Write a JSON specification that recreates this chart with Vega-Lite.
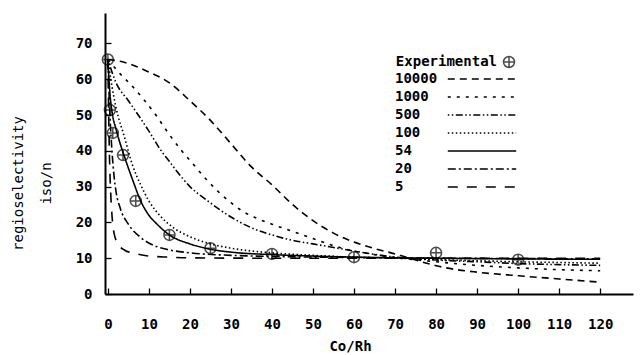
{
  "$schema": "https://vega.github.io/schema/vega-lite/v6.json",
  "width": 528,
  "height": 281,
  "autosize": {"type": "none"},
  "padding": {"left": 105, "top": 13, "right": 8, "bottom": 61},
  "background": "white",
  "config": {
    "view": {"stroke": null},
    "font": "DejaVu Sans Mono",
    "axis": {"grid": false, "domainColor": "black", "domainWidth": 2, "tickColor": "black", "tickWidth": 1.3, "labelColor": "black", "titleColor": "black", "labelFont": "DejaVu Sans Mono", "labelFontSize": 14, "labelFontWeight": "bold", "titleFont": "DejaVu Sans Mono"},
    "legend": {"labelFont": "DejaVu Sans Mono", "labelFontSize": 14, "labelFontWeight": "bold", "labelColor": "black", "padding": 0}
  },
  "datasets": {
    "curves": [
      {"model": "10000", "x": 0, "y": 65.5}, {"model": "10000", "x": 3, "y": 65}, {"model": "10000", "x": 6, "y": 64}, {"model": "10000", "x": 10, "y": 62}, {"model": "10000", "x": 15, "y": 59}, {"model": "10000", "x": 20, "y": 54}, {"model": "10000", "x": 25, "y": 48.5}, {"model": "10000", "x": 30, "y": 42}, {"model": "10000", "x": 35, "y": 35.5}, {"model": "10000", "x": 40, "y": 30.5}, {"model": "10000", "x": 45, "y": 25}, {"model": "10000", "x": 50, "y": 20.5}, {"model": "10000", "x": 55, "y": 17}, {"model": "10000", "x": 60, "y": 14.5}, {"model": "10000", "x": 65, "y": 12.7}, {"model": "10000", "x": 70, "y": 11.2}, {"model": "10000", "x": 75, "y": 9.5}, {"model": "10000", "x": 80, "y": 7.9}, {"model": "10000", "x": 85, "y": 6.8}, {"model": "10000", "x": 90, "y": 6.1}, {"model": "10000", "x": 100, "y": 5.1}, {"model": "10000", "x": 110, "y": 4.2}, {"model": "10000", "x": 120, "y": 3.3},
      {"model": "1000", "x": 0, "y": 65.5}, {"model": "1000", "x": 3, "y": 61.5}, {"model": "1000", "x": 6, "y": 58}, {"model": "1000", "x": 9, "y": 54}, {"model": "1000", "x": 12, "y": 49.5}, {"model": "1000", "x": 15, "y": 44.5}, {"model": "1000", "x": 18, "y": 40}, {"model": "1000", "x": 21, "y": 36}, {"model": "1000", "x": 24, "y": 32}, {"model": "1000", "x": 27, "y": 28.5}, {"model": "1000", "x": 30, "y": 25.5}, {"model": "1000", "x": 33, "y": 23}, {"model": "1000", "x": 36, "y": 21.3}, {"model": "1000", "x": 40, "y": 19.5}, {"model": "1000", "x": 45, "y": 17.5}, {"model": "1000", "x": 50, "y": 15.5}, {"model": "1000", "x": 55, "y": 13.5}, {"model": "1000", "x": 60, "y": 12}, {"model": "1000", "x": 65, "y": 11}, {"model": "1000", "x": 70, "y": 10.2}, {"model": "1000", "x": 80, "y": 9}, {"model": "1000", "x": 90, "y": 8}, {"model": "1000", "x": 100, "y": 7.3}, {"model": "1000", "x": 110, "y": 6.8}, {"model": "1000", "x": 120, "y": 6.5},
      {"model": "500", "x": 0, "y": 65.5}, {"model": "500", "x": 2, "y": 59}, {"model": "500", "x": 5, "y": 54}, {"model": "500", "x": 8, "y": 49}, {"model": "500", "x": 10, "y": 45.5}, {"model": "500", "x": 13, "y": 40}, {"model": "500", "x": 15, "y": 37}, {"model": "500", "x": 17, "y": 34}, {"model": "500", "x": 20, "y": 30}, {"model": "500", "x": 24, "y": 26.3}, {"model": "500", "x": 30, "y": 21.5}, {"model": "500", "x": 35, "y": 18.5}, {"model": "500", "x": 40, "y": 16.5}, {"model": "500", "x": 45, "y": 15}, {"model": "500", "x": 50, "y": 14}, {"model": "500", "x": 55, "y": 13}, {"model": "500", "x": 60, "y": 12}, {"model": "500", "x": 70, "y": 10.3}, {"model": "500", "x": 80, "y": 9.5}, {"model": "500", "x": 90, "y": 9}, {"model": "500", "x": 100, "y": 8.5}, {"model": "500", "x": 110, "y": 8.2}, {"model": "500", "x": 120, "y": 8},
      {"model": "100", "x": 0, "y": 65.5}, {"model": "100", "x": 1, "y": 58}, {"model": "100", "x": 2, "y": 52}, {"model": "100", "x": 4, "y": 44}, {"model": "100", "x": 6, "y": 36}, {"model": "100", "x": 8, "y": 30.5}, {"model": "100", "x": 10, "y": 26}, {"model": "100", "x": 13, "y": 21.5}, {"model": "100", "x": 16, "y": 18.5}, {"model": "100", "x": 20, "y": 16}, {"model": "100", "x": 25, "y": 14}, {"model": "100", "x": 30, "y": 12.8}, {"model": "100", "x": 40, "y": 11.5}, {"model": "100", "x": 50, "y": 10.8}, {"model": "100", "x": 60, "y": 10.3}, {"model": "100", "x": 70, "y": 10}, {"model": "100", "x": 80, "y": 9.6}, {"model": "100", "x": 90, "y": 9.3}, {"model": "100", "x": 100, "y": 9}, {"model": "100", "x": 110, "y": 8.8}, {"model": "100", "x": 120, "y": 8.6},
      {"model": "54", "x": 0, "y": 65.5}, {"model": "54", "x": 0.5, "y": 56}, {"model": "54", "x": 1, "y": 51}, {"model": "54", "x": 2, "y": 46}, {"model": "54", "x": 3, "y": 42}, {"model": "54", "x": 4, "y": 38.5}, {"model": "54", "x": 6, "y": 32}, {"model": "54", "x": 8, "y": 26}, {"model": "54", "x": 10, "y": 22}, {"model": "54", "x": 12, "y": 19.5}, {"model": "54", "x": 15, "y": 16.5}, {"model": "54", "x": 20, "y": 14}, {"model": "54", "x": 25, "y": 12.5}, {"model": "54", "x": 30, "y": 11.7}, {"model": "54", "x": 40, "y": 11}, {"model": "54", "x": 50, "y": 10.6}, {"model": "54", "x": 60, "y": 10.3}, {"model": "54", "x": 80, "y": 10}, {"model": "54", "x": 100, "y": 9.8}, {"model": "54", "x": 120, "y": 9.7},
      {"model": "20", "x": 0, "y": 65.5}, {"model": "20", "x": 0.5, "y": 50}, {"model": "20", "x": 1, "y": 40}, {"model": "20", "x": 1.5, "y": 33}, {"model": "20", "x": 2, "y": 28.5}, {"model": "20", "x": 3, "y": 24}, {"model": "20", "x": 5, "y": 19.5}, {"model": "20", "x": 8, "y": 15.8}, {"model": "20", "x": 12, "y": 13.2}, {"model": "20", "x": 15, "y": 12.3}, {"model": "20", "x": 20, "y": 11.5}, {"model": "20", "x": 30, "y": 10.8}, {"model": "20", "x": 40, "y": 10.5}, {"model": "20", "x": 60, "y": 10.2}, {"model": "20", "x": 80, "y": 10}, {"model": "20", "x": 100, "y": 9.9}, {"model": "20", "x": 120, "y": 9.8},
      {"model": "5", "x": 0, "y": 65.5}, {"model": "5", "x": 0.2, "y": 50}, {"model": "5", "x": 0.4, "y": 38}, {"model": "5", "x": 0.7, "y": 28}, {"model": "5", "x": 1, "y": 22}, {"model": "5", "x": 1.5, "y": 17}, {"model": "5", "x": 2.5, "y": 14}, {"model": "5", "x": 4, "y": 12.3}, {"model": "5", "x": 7, "y": 11.2}, {"model": "5", "x": 10, "y": 10.6}, {"model": "5", "x": 15, "y": 10.3}, {"model": "5", "x": 20, "y": 10.1}, {"model": "5", "x": 40, "y": 10}, {"model": "5", "x": 60, "y": 10}, {"model": "5", "x": 120, "y": 10}
    ],
    "exp": [
      {"kind": "Experimental", "x": 0, "y": 65.5},
      {"kind": "Experimental", "x": 0.5, "y": 51.4},
      {"kind": "Experimental", "x": 1.2, "y": 45},
      {"kind": "Experimental", "x": 3.7, "y": 38.8},
      {"kind": "Experimental", "x": 6.8, "y": 26},
      {"kind": "Experimental", "x": 15, "y": 16.5},
      {"kind": "Experimental", "x": 25, "y": 12.8},
      {"kind": "Experimental", "x": 40, "y": 11.2},
      {"kind": "Experimental", "x": 60, "y": 10.3},
      {"kind": "Experimental", "x": 80, "y": 11.5},
      {"kind": "Experimental", "x": 100, "y": 9.6}
    ]
  },
  "layer": [
    {
      "data": {"name": "curves"},
      "mark": {"type": "line", "interpolate": "monotone", "color": "black", "strokeWidth": 1.6},
      "encoding": {
        "x": {"field": "x", "type": "quantitative", "scale": {"domain": [-0.7, 128], "nice": false, "zero": false},
          "axis": {"values": [0, 10, 20, 30, 40, 50, 60, 70, 80, 90, 100, 110, 120], "tickSize": -6, "labelPadding": 29, "title": "Co/Rh", "titleFontSize": 14, "titleFontWeight": "bold", "titleX": 245, "titleY": 52, "titleBaseline": "middle", "labelFlush": false}},
        "y": {"field": "y", "type": "quantitative", "scale": {"domain": [0, 78.5], "nice": false},
          "axis": {"values": [0, 10, 20, 30, 40, 50, 60, 70], "tickSize": -6, "labelPadding": 19, "title": ["regioselectivity", "iso/n"], "titleFontSize": 14, "titleFontWeight": "normal", "titleLineHeight": 28, "titleAngle": -90, "titleAlign": "center", "titleBaseline": "top", "titleX": -94, "titleY": 170, "labelFlush": false}},
        "strokeDash": {"field": "model", "type": "nominal",
          "scale": {"domain": ["10000", "1000", "500", "100", "54", "20", "5"],
            "range": [[7, 5], [3, 6], [1.5, 2.5, 1.5, 2.5, 7, 2.5], [1.5, 2.5], [1, 0], [8, 3, 2, 3], [10, 9]]},
          "legend": {"title": null, "orient": "none", "legendX": 370, "legendY": 59, "symbolType": "M-5.7,0L5.7,0", "symbolSize": 144, "symbolStrokeWidth": 1.6, "symbolStrokeColor": "black", "symbolFillColor": "transparent", "labelOffset": -94, "rowPadding": 4}},
        "detail": {"field": "model"}
      }
    },
    {
      "data": {"name": "exp"},
      "mark": {"type": "point", "filled": false, "color": "black", "strokeWidth": 1.5, "size": 121},
      "encoding": {
        "x": {"field": "x", "type": "quantitative"},
        "y": {"field": "y", "type": "quantitative"},
        "shape": {"field": "kind", "type": "nominal",
          "scale": {"range": ["M-1,0A1,1,0,1,1,1,0A1,1,0,1,1,-1,0ZM-1,0L1,0M0,-1L0,1"]},
          "legend": {"title": null, "orient": "none", "legendX": 397, "legendY": 42, "symbolSize": 121, "symbolStrokeColor": "black", "symbolStrokeWidth": 1.5, "labelAlign": "right", "labelOffset": -19}}
      }
    }
  ]
}
